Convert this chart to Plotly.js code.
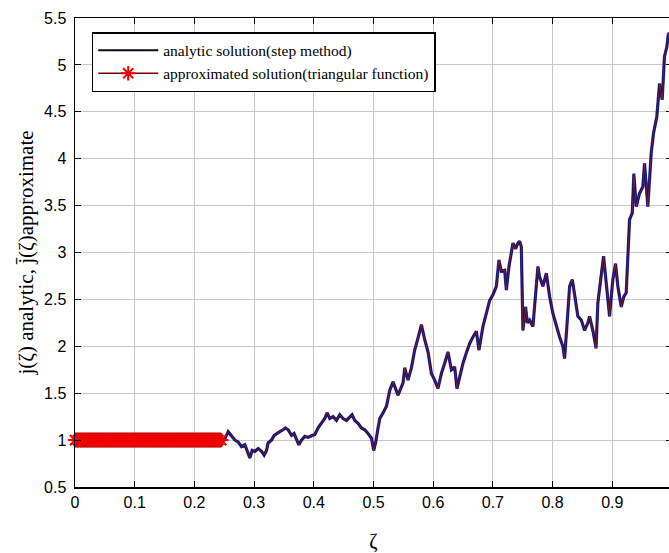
<!DOCTYPE html>
<html>
<head>
<meta charset="utf-8">
<script src="https://cdn.plot.ly/plotly-3.0.1.min.js"></script>
<style>
html,body{margin:0;padding:0;overflow:hidden;background:#fff;}
#chart{width:672px;height:553px;}
</style>
</head>
<body>
<div id="chart"></div>
<script>
// Initial (history) interval: approximated solution markers, j = 1
const zetaInit = [0,0.005,0.01,0.015,0.02,0.025,0.03,0.035,0.04,0.045,0.05,0.055,0.06,0.065,0.07,0.075,0.08,0.085,0.09,0.095,0.1,0.105,0.11,0.115,0.12,0.125,0.13,0.135,0.14,0.145,0.15,0.155,0.16,0.165,0.17,0.175,0.18,0.185,0.19,0.195,0.2,0.205,0.21,0.215,0.22,0.225,0.23,0.235,0.24,0.245];
const jInit = [1,1,1,1,1,1,1,1,1,1,1,1,1,1,1,1,1,1,1,1,1,1,1,1,1,1,1,1,1,1,1,1,1,1,1,1,1,1,1,1,1,1,1,1,1,1,1,1,1,1];

// Solution curve
const zeta = [0,0.25,0.2566,0.2623,0.2678,0.2733,0.2790,0.2845,0.2890,0.2929,0.2967,0.3013,0.3068,0.3125,0.3168,0.3208,0.3235,0.3292,0.3336,0.3376,0.3431,0.3486,0.3526,0.3570,0.3627,0.3670,0.3711,0.3749,0.3794,0.3849,0.3905,0.3962,0.4017,0.4072,0.4129,0.4184,0.4223,0.4268,0.4323,0.4380,0.4435,0.4490,0.4547,0.4603,0.4641,0.4686,0.4741,0.4798,0.4854,0.4909,0.4966,0.5004,0.5038,0.5076,0.5105,0.5160,
  0.5217,0.5272,0.5327,0.5411,0.5495,0.5523,0.5578,0.5635,0.5690,0.5746,0.5803,0.5858,0.5913,0.5970,0.6025,0.6080,0.6137,0.6192,0.6248,0.6305,0.6360,0.6398,0.6444,0.6499,0.6556,0.6611,0.6666,0.6723,0.6767,0.6833,0.6890,0.6946,0.7001,0.7058,0.7101,0.7142,0.7197,0.7225,0.7269,0.7309,0.7336,0.7381,0.7419,0.7448,0.7476,0.7503,0.7548,0.7577,0.7615,0.7670,0.7699,0.7754,0.7782,0.7838,0.7895,0.7950,0.8005,0.8062,0.8117,0.8172,0.8201,0.8239,0.8285,0.8330,0.8368,0.8423,0.8480,0.8536,0.8591,0.8619,0.8675,0.8703,0.8728,0.8758,0.8815,0.8854,0.8899,0.8954,0.9009,0.9054,0.9093,0.9150,0.9193,0.9233,0.9289,0.9334,0.9361,0.9401,0.9456,0.9511,0.9540,0.9595,0.9652,0.9690,0.9746,0.9791,0.9836,0.9874,0.9913,0.9941,1.0];
const jAnalytic = [1,1.0,1.09,1.05,1.00,0.98,0.93,0.95,0.88,0.81,0.89,0.88,0.91,0.88,0.84,0.89,0.97,1.00,1.05,1.07,1.09,1.11,1.13,1.11,1.05,1.07,1.00,0.95,1.00,1.04,1.03,1.05,1.06,1.13,1.18,1.23,1.29,1.23,1.25,1.21,1.27,1.23,1.21,1.25,1.27,1.21,1.18,1.13,1.11,1.07,1.02,0.89,0.98,1.13,1.23,1.29,
  1.36,1.53,1.62,1.48,1.61,1.77,1.64,1.77,1.96,2.09,2.23,2.07,1.94,1.71,1.64,1.55,1.71,1.82,1.94,1.75,1.78,1.55,1.68,1.82,1.93,2.03,2.10,2.16,1.96,2.21,2.35,2.49,2.55,2.64,2.92,2.80,2.81,2.60,2.85,2.99,3.10,3.04,3.10,3.12,3.06,2.17,2.42,2.25,2.28,2.21,2.46,2.85,2.74,2.64,2.78,2.53,2.35,2.21,2.10,2.00,1.87,2.21,2.64,2.71,2.57,2.32,2.28,2.17,2.25,2.32,2.17,2.07,1.98,2.46,2.78,2.96,2.67,2.32,2.71,2.88,2.64,2.42,2.53,2.57,3.35,3.42,3.84,3.49,3.63,3.70,3.95,3.49,4.06,4.27,4.45,4.80,4.63,5.09,5.19,5.34,5.25];
const jApprox = jAnalytic;

const xTicks = [0,0.1,0.2,0.3,0.4,0.5,0.6,0.7,0.8,0.9,1];
const xTickText = ['0','0.1','0.2','0.3','0.4','0.5','0.6','0.7','0.8','0.9','1'];
const yTicks = [0.5,1,1.5,2,2.5,3,3.5,4,4.5,5,5.5];
const yTickText = ['0.5','1','1.5','2','2.5','3','3.5','4','4.5','5','5.5'];

const traces = [
  {x: zeta, y: jApprox, type:'scatter', mode:'lines', showlegend:false, hoverinfo:'skip',
   line:{color:'#2a2ad0', width:3.2}},
  {x: zeta, y: jAnalytic, type:'scatter', mode:'lines', name:'analytic solution(step method)',
   line:{color:'#0a0a1e', width:2}},
  {x: zeta, y: jApprox, type:'scatter', mode:'lines', showlegend:false, hoverinfo:'skip',
   line:{color:'#b0306a', width:0.6}},
  {x: zetaInit, y: jInit, type:'scatter', mode:'lines', showlegend:false, hoverinfo:'skip', cliponaxis:false,
   line:{color:'#9a0000', width:15}},
  {x: zetaInit, y: jInit, type:'scatter', mode:'lines', showlegend:false, hoverinfo:'skip', cliponaxis:false,
   line:{color:'#f20000', width:12.5}},
  {x: zetaInit, y: jInit, type:'scatter', mode:'lines+markers', name:'approximated solution(triangular function)',
   cliponaxis:false,
   line:{color:'#7a0000', width:1.5},
   marker:{symbol:'asterisk-open', size:12, color:'#ee0000', line:{color:'#ee0000', width:2}}}
];

const layout = {
  width: 672, height: 553,
  margin: {l:75, r:0, t:18, b:66},
  paper_bgcolor:'#ffffff', plot_bgcolor:'#ffffff',
  showlegend: true,
  legend: {x:0.028, y:0.97, xanchor:'left', yanchor:'top',
    bgcolor:'#ffffff', bordercolor:'#000000', borderwidth:1.5,
    itemwidth: 60,
    font:{family:'Liberation Serif, Times New Roman, serif', size:15.5, color:'#000'},
    tracegroupgap: 2},
  xaxis: {range:[0,1], tickvals:xTicks, ticktext:xTickText,
    showgrid:true, gridcolor:'#c8c8c8', gridwidth:1, zeroline:false,
    showline:true, linecolor:'#000', linewidth:1.5, mirror:'ticks',
    ticks:'inside', ticklen:6, tickcolor:'#000', tickwidth:1,
    tickfont:{family:'Liberation Sans, Arial, sans-serif', size:16, color:'#000'},
    title:{text:'ζ', font:{family:'Liberation Serif, Times New Roman, serif', size:20, color:'#000'}, standoff:24}},
  yaxis: {range:[0.5,5.5], tickvals:yTicks, ticktext:yTickText,
    showgrid:true, gridcolor:'#c8c8c8', gridwidth:1, zeroline:false,
    showline:true, linecolor:'#000', linewidth:1.5, mirror:'ticks',
    ticks:'inside', ticklen:6, tickcolor:'#000', tickwidth:1,
    ticklabelstandoff:4,
    tickfont:{family:'Liberation Sans, Arial, sans-serif', size:16, color:'#000'},
    title:{text:'j(ζ) analytic, j\u0304(ζ)approximate', font:{family:'Liberation Serif, Times New Roman, serif', size:21, color:'#000'}, standoff:4}}
};

Plotly.newPlot('chart', traces, layout, {displayModeBar:false, staticPlot:true});
</script>
</body>
</html>
